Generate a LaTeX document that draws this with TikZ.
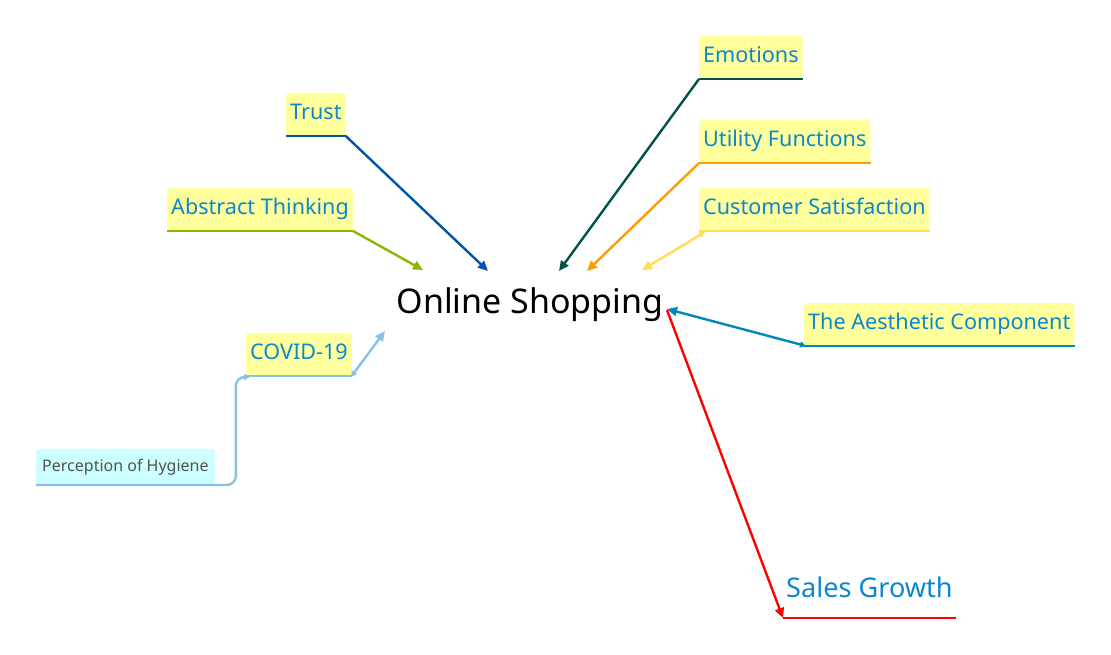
\documentclass[tikz,border=0pt]{standalone}
\usepackage{fontspec}
\setmainfont{Noto Sans}
\usepackage{tikz}
\usetikzlibrary{arrows.meta,calc}

\definecolor{labelblue}{HTML}{0A88CF}
\definecolor{boxyellow}{HTML}{FFFF9C}
\definecolor{boxcyan}{HTML}{CCFFFF}
\definecolor{trustc}{HTML}{0055A8}
\definecolor{abstractc}{HTML}{8AB800}
\definecolor{emotionc}{HTML}{00524C}
\definecolor{utilityc}{HTML}{FF9D00}
\definecolor{custc}{HTML}{FFDD55}
\definecolor{aesthc}{HTML}{0088BB}
\definecolor{covidc}{HTML}{88C0E8}

\tikzset{
	topic/.style={fill=boxyellow, rounded corners=3pt, anchor=south west, inner xsep=4pt,
		minimum height=43pt, text height=16pt, text depth=6pt, text=labelblue, font=\fontsize{21.6}{26}\selectfont},
	link/.style={line width=2.4pt},
	big/.tip={Triangle[length=10pt,width=9pt]},
	small/.tip={Triangle[length=6pt,width=6pt]}
}

\begin{document}
\begin{tikzpicture}[x=1pt,y=-1pt]
\useasboundingbox (0,0) rectangle (1111,655);

\node (os) at (530,305) {\fontsize{34}{40}\selectfont Online Shopping};

\node[topic] (trust) at (286,136) {Trust};
\node[topic] (abs) at (167,231) {Abstract Thinking};
\node[topic] (emo) at (699,79) {Emotions};
\node[topic] (util) at (699,163) {Utility Functions};
\node[topic] (cust) at (699,231) {Customer Satisfaction};
\node[topic] (aes) at (804,346) {The Aesthetic Component};
\node[topic] (covid) at (246,376) {COVID-19};
\node[topic, fill=boxcyan, text=black!68, minimum height=36pt, text height=12pt, text depth=3pt, inner xsep=6pt, font=\fontsize{16}{19}\selectfont] (hyg) at (36,485) {Perception of Hygiene};
\node[anchor=south west, inner xsep=3pt, minimum height=61pt, text=labelblue, font=\fontsize{27.1}{32}\selectfont] (sales) at (783,618) {Sales Growth\hspace{2pt}};

\coordinate (trustend) at (488,271);
\coordinate (absend) at (423,270);
\coordinate (emoend) at (559,271);
\coordinate (utilend) at (587,271);
\coordinate (custend) at (642,270);
\coordinate (aesend) at (667,309);
\coordinate (salesstart) at (667,310);
\coordinate (covidend) at (385,331);

\draw[link,trustc] (trust.south west) -- (trust.south east);
\draw[link,trustc,-big] (trust.south east) -- (trustend);
\draw[link,abstractc] (abs.south west) -- (abs.south east);
\draw[link,abstractc,-big] (abs.south east) -- (absend);
\draw[link,emotionc] (emo.south west) -- (emo.south east);
\draw[link,emotionc,-big] (emo.south west) -- (emoend);
\draw[link,utilityc] (util.south west) -- (util.south east);
\draw[link,utilityc,-big] (util.south west) -- (utilend);
\draw[link,custc] (cust.south west) -- (cust.south east);
\draw[link,custc,small-big] ($(cust.south west)+(6,1)$) -- (custend);
\draw[link,aesthc] (aes.south west) -- (aes.south east);
\draw[link,aesthc,small-big] ($(aes.south west)+(2,0)$) -- (aesend);
\draw[link,red] (sales.south west) -- (sales.south east);
\draw[link,red,-big] (salesstart) -- (sales.south west);
\draw[link,covidc] (covid.south west) -- (covid.south east);
\draw[link,covidc,small-big] ($(covid.south east)+(-1,1)$) -- (covidend);
\draw[link,covidc,rounded corners=9pt,-small] (hyg.south west) -- ($(hyg.south east)+(21,0)$) |- ($(covid.south west)+(4,1)$);
\end{tikzpicture}
\end{document}
